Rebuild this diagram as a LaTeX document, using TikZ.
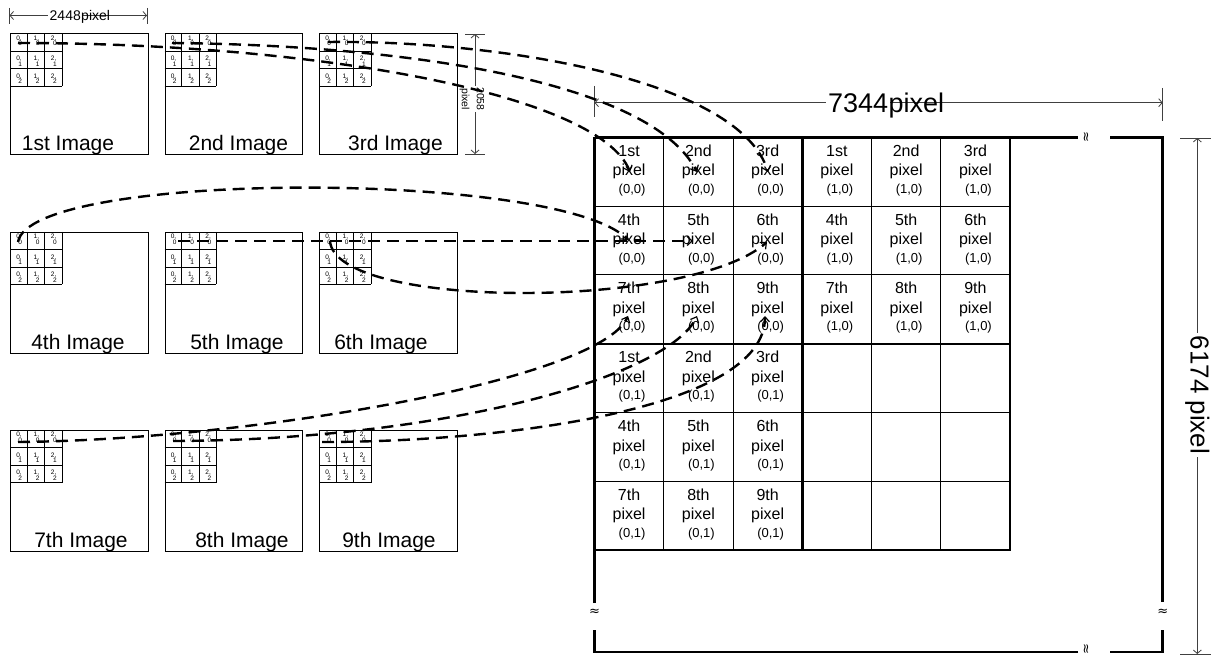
\documentclass[tikz,border=0pt]{standalone}
\usepackage{fontspec}
\setmainfont{Liberation Sans}
\newfontfamily\djv{DejaVu Sans}
\usetikzlibrary{arrows.meta}
\newcommand\myfs[1]{\fontsize{#1}{#1}\selectfont}
\newcommand\ordtxt[1]{\ifcase#1\or 1st\or 2nd\or 3rd\or 4th\or 5th\or 6th\or 7th\or 8th\or 9th\fi}
\begin{document}
\begin{tikzpicture}[x=1pt,y=-1pt,
 imgbox/.style={draw, line width=0.8pt, inner sep=0pt, minimum width=137.5pt, minimum height=120.5pt, anchor=north west},
 smallgrid/.style={line width=0.7pt},
 smalltxt/.style={font=\myfs{6.5}, inner sep=0pt, anchor=base east},
 imglabel/.style={font=\myfs{21}, inner sep=0pt, anchor=base},
 celltxt/.style={font=\myfs{16}, inner sep=0pt, anchor=base},
 coordtxt/.style={font=\myfs{13}, inner sep=0pt, anchor=base},
 framel/.style={line width=2.5pt},
 gridthick/.style={line width=2.4pt},
 gridthin/.style={line width=1pt},
 approxmark/.style={font=\djv\myfs{13}, inner sep=0pt},
 dimline/.style={line width=0.8pt, draw=black!75},
 dimarrows/.style={dimline, {Straight Barb[length=3.5pt,width=8pt]}-{Straight Barb[length=3.5pt,width=8pt]}},
 flow/.style={line width=2.4pt, dash pattern=on 12pt off 7pt, -{Straight Barb[length=5pt,width=9pt,line width=1.2pt]}},
]
\useasboundingbox (0,0) rectangle (1211,655);

% ---- small images ----
\foreach \r/\yt in {0/33.5,1/232,2/430}{
 \foreach \c/\xl in {0/10,1/164.5,2/319}{
  \node[imgbox] (img\r\c) at (\xl,\yt) {};
  \foreach \i in {1,2,3}{
   \draw[smallgrid] (\xl+\i*17.3,\yt) -- (\xl+\i*17.3,\yt+52.5);
   \draw[smallgrid] (\xl,\yt+\i*17.5) -- (\xl+51.9,\yt+\i*17.5);
  }
  \foreach \ci in {0,1,2}{
   \foreach \rj/\oa/\ob in {0/6.8/12.3,1/9.8/15.3,2/9.8/15.3}{
     \node[smalltxt] (g\r\c\ci\rj x) at (\xl+\ci*17.3+12,\yt+\rj*17.5+\oa) {\ci,};
     \node[smalltxt] (g\r\c\ci\rj y) at (\xl+\ci*17.3+12.3,\yt+\rj*17.5+\ob) {\rj};
   }
  }
 }
}
\foreach \nm/\lab/\x/\y in {l1/1st/68/150.5, l2/2nd/238.5/150.5, l3/3rd/395.5/150.5,
  l4/4th/78/349, l5/5th/237/349, l6/6th/381/349,
  l7/7th/81/547.5, l8/8th/242/547.5, l9/9th/389/547.5}
  \node[imglabel] (\nm) at (\x,\y) {\lab\ Image};

% ---- big grid ----
\foreach \k in {1,2,4,5}{
  \draw[gridthin] (594.5+69.27*\k,137.3) -- (594.5+69.27*\k,550.1);
  \draw[gridthin] (594.5,137.3+68.8*\k) -- (1010.1,137.3+68.8*\k);
}
\draw[gridthick] (802.3,137.3) -- (802.3,550.1);
\draw[gridthick] (594.5,343.7) -- (1010.1,343.7);
\draw[gridthick] (594.5,550.1) -- (1010.1,550.1) -- (1010.1,137.3);

\foreach \bx/\by in {0/0,1/0,0/1}{
 \foreach \row in {0,1,2}{
  \foreach \col in {0,1,2}{
   \pgfmathtruncatemacro\n{3*\row+\col+1}
   \pgfmathsetmacro\cx{594.5+69.27*(3*\bx+\col)+34.6}
   \pgfmathsetmacro\ty{137.3+68.8*(3*\by+\row)}
   \node[celltxt] (c\bx\by\n a) at (\cx,\ty+19) {\ordtxt{\n}};
   \node[celltxt] (c\bx\by\n b) at (\cx,\ty+38.5) {pixel};
   \node[coordtxt] (c\bx\by\n c) at (\cx+3,\ty+56) {(\bx,\by)};
  }
 }
}

% ---- outer frame with breaks ----
\draw[framel] (594.5,137.3) -- (1078,137.3);
\draw[framel] (1110,137.3) -- (1162.7,137.3) -- (1162.7,602);
\draw[framel] (1162.7,630) -- (1162.7,652) -- (1110,652);
\draw[framel] (1078,652) -- (594.5,652) -- (594.5,630);
\draw[framel] (594.5,603) -- (594.5,137.3);
\node[approxmark, rotate=90] (wt) at (1087,137.3) {≈};
\node[approxmark, rotate=90] (wb) at (1087,649.5) {≈};
\node[approxmark] (wl) at (594.5,612) {≈};
\node[approxmark] (wr) at (1162.7,612) {≈};

% ---- dimensions ----
\draw[dimline] (9.5,8) -- (9.5,24);
\draw[dimline] (147,8) -- (147,24);
\draw[dimarrows] (9.5,15.5) -- (147,15.5);
\node[font=\myfs{14}, fill=white, inner xsep=1.5pt, inner ysep=1pt, anchor=base west] (d1a) at (48,20.5) {2448};
\node[font=\myfs{14}, inner sep=0pt, anchor=base west] (d1b) at ([xshift=-1.5pt]d1a.base east) {pixel};

\draw[dimline] (465,34) -- (485,34);
\draw[dimline] (465,154) -- (485,154);
\draw[dimarrows] (475,34) -- (475,154);
\node[font=\fontsize{10.5}{15}\selectfont, align=center, fill=white, inner sep=1.5pt, rotate=-90] (d2) at (472,99) {2058\\pixel};

\draw[dimline] (594.5,86) -- (594.5,117);
\draw[dimline] (1162.7,88) -- (1162.7,121);
\draw[dimarrows] (594.5,102.7) -- (1162.7,102.7);
\node[font=\myfs{27}, fill=white, inner xsep=2pt, inner ysep=2pt, anchor=base west] (d3a) at (826,112.5) {7344};
\node[font=\myfs{27}, inner sep=0pt, anchor=base west] (d3b) at ([xshift=-2pt]d3a.base east) {pixel};

\draw[dimline] (1180,138) -- (1211,138);
\draw[dimline] (1180,654) -- (1211,654);
\draw[dimarrows] (1197.3,138) -- (1197.3,654);
\node[font=\myfs{26}, fill=white, inner sep=3pt, rotate=-90] (d4) at (1197.3,395) {6174 pixel};

% ---- flow connectors ----
\coordinate (s1) at (18,43);   \coordinate (t1) at (630,172);
\coordinate (s2) at (172,43);  \coordinate (t2) at (697,172);
\coordinate (s3) at (328,42);  \coordinate (t3) at (768,172);
\coordinate (s4) at (18,242);  \coordinate (t4) at (628,240);
\coordinate (s5) at (178,241); \coordinate (t5) at (693,241);
\coordinate (s6) at (330,241); \coordinate (t6) at (767,242);
\coordinate (s7) at (18,442);  \coordinate (t7) at (628,316);
\coordinate (s8) at (173,441); \coordinate (t8) at (697,316);
\coordinate (s9) at (322,442); \coordinate (t9) at (765,316);

\draw[flow] (s1) .. controls (320,43) and (600,95) .. (t1);
\draw[flow] (s2) .. controls (400,45) and (650,80) .. (t2);
\draw[flow] (s3) .. controls (500,40) and (740,80) .. (t3);
\draw[flow] (s4) .. controls (30,170) and (560,170) .. (t4);
\draw[flow] (s5) -- (t5);
\draw[flow] (s6) .. controls (335,310) and (690,310) .. (t6);
\draw[flow] (s7) .. controls (250,440) and (600,380) .. (t7);
\draw[flow] (s8) .. controls (450,440) and (670,375) .. (t8);
\draw[flow] (s9) .. controls (500,442) and (765,410) .. (t9);
\end{tikzpicture}
\end{document}
